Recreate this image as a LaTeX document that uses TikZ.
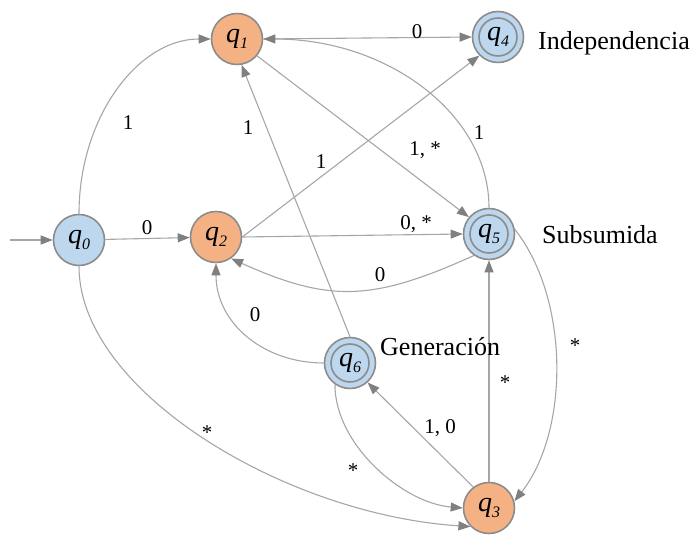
\documentclass[tikz,border=0pt]{standalone}
\usepackage{fontspec}
\setmainfont{Liberation Serif}
\usetikzlibrary{arrows.meta}
\definecolor{stblue}{HTML}{BDD7EE}
\definecolor{storange}{HTML}{F4B183}
\definecolor{stborder}{HTML}{8C8C8C}
\definecolor{edgegray}{HTML}{A6A6A6}
\definecolor{tipgray}{HTML}{808080}
\tikzset{
 state/.style={circle, draw=stborder, line width=1.6pt, minimum size=51pt, inner sep=0pt},
 bstate/.style={state, fill=stblue},
 ostate/.style={state, fill=storange},
 accstate/.style={bstate, path picture={\draw[stborder, line width=1.6pt] (path picture bounding box.center) circle (19pt);}},
 edge/.style={draw=edgegray, line width=1.1pt, -{Triangle[length=12pt,width=9pt,color=tipgray]}},
 elabel/.style={font=\fontsize{21}{21}\selectfont, inner sep=0pt},
 desc/.style={font=\fontsize{26}{26}\selectfont, inner sep=0pt, anchor=base west}
}
\newcommand{\stq}[1]{\fontsize{28}{28}\selectfont\itshape q\raisebox{-6pt}{\fontsize{16}{16}\selectfont #1}}
\begin{document}
\begin{tikzpicture}[x=1pt,y=1pt]
\useasboundingbox (0,0) rectangle (694,535);
\node[bstate] (q0) at (79,295) {\stq{0}};
\node[ostate] (q1) at (237,496) {\stq{1}};
\node[ostate] (q2) at (216,298) {\stq{2}};
\node[ostate] (q3) at (489,27) {\stq{3}};
\node[accstate] (q4) at (498,498) {\stq{4}};
\node[accstate] (q5) at (489,301) {\stq{5}};
\node[accstate] (q6) at (350,172) {\stq{6}};

\coordinate (start) at (10,295);
\draw[edge] (start) -- (q0.west);
\draw[edge] (q0) -- (q2);
\draw[edge] (q0.north) .. controls +(0,96) and +(-73,0) .. (q1.west);
\draw[edge] (q0.south) .. controls +(0,-125) and +(-185,12) .. (q3.225);
\draw[edge] (q1.east) -- (q4.west);
\draw[edge] (q1.-40) -- (q5.140);
\draw[edge] (q2.east) -- (q4.225);
\draw[edge] (q2.east) -- (q5.west);
\draw[edge] (q5.235) .. controls +(-100,-45) and +(100,-45) .. (q2.-55);
\draw[edge] (q5.north) .. controls +(0,93) and +(125,0) .. (q1.east);
\draw[edge] (q5.10) .. controls +(55,-70) and +(55,70) .. (q3.15);
\draw[edge] (q6.north) -- (q1.-80);
\draw[edge] (q6.west) .. controls +(-60,0) and +(0,-60) .. (q2.south);
\draw[edge] (q6.235) .. controls +(0,-60) and +(-60,5) .. (q3.west);
\draw[edge] (q3.127) -- (q6.-48);
\draw[edge] (q3.north) -- (q5.south);

\node[elabel] (l01) at (128,412) {1};
\node[elabel] (l61) at (248,407) {1};
\node[elabel] (l02) at (147,307) {0};
\node[elabel] (l14) at (417,503) {0};
\node[elabel] (l24) at (321,373) {1};
\node[elabel] (l15) at (425,385) {1, *};
\node[elabel] (l51) at (479,402) {1};
\node[elabel] (l25) at (416,311) {0, *};
\node[elabel] (l52) at (380,260) {0};
\node[elabel] (l62) at (255,220) {0};
\node[elabel] (l03) at (207,102) {*};
\node[elabel] (l63) at (353,64) {*};
\node[elabel] (l36) at (440,107) {1, 0};
\node[elabel] (l35) at (505,152) {*};
\node[elabel] (l53) at (575,189) {*};

\node[desc] (dind) at (538,485) {Independencia};
\node[desc] (dsub) at (542,291) {Subsumida};
\node[desc] (dgen) at (380,179) {Generación};
\end{tikzpicture}
\end{document}
